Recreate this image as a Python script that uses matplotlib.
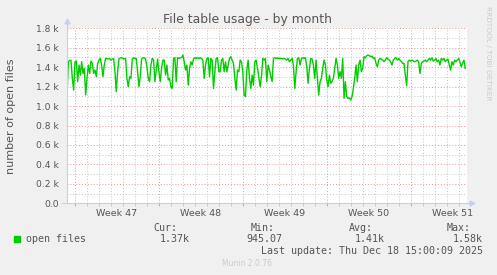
import numpy as np
import pandas as pd
import matplotlib
matplotlib.use('Agg')
import matplotlib.pyplot as plt
import matplotlib.dates as mdates
from matplotlib.transforms import blended_transform_factory

# visible window of the munin "month" graph
view_start = pd.Timestamp('2025-11-15 09:00')
view_end = pd.Timestamp('2025-12-18 17:00')
data_start = pd.Timestamp('2025-11-15 09:00')
data_end = pd.Timestamp('2025-12-18 13:30')

week_starts = ['2025-11-16', '2025-11-23', '2025-11-30', '2025-12-07', '2025-12-14']
week_labels = ['Week 47', 'Week 48', 'Week 49', 'Week 50', 'Week 51']

# number of open files (left to right)
open_files_a = [1114, 1456, 1470, 1470, 1285, 1165, 1456, 1463, 1251, 1422, 1319, 1456, 1336,
                1388, 1114, 1285, 1422, 1336, 1463, 1439, 1336, 1371, 1302, 1439, 1473, 1490,
                1422, 1302, 1422, 1490, 1490, 1484, 1490, 1473, 1484, 1490, 1353, 1148, 1353,
                1484, 1497, 1497, 1490, 1484, 1490, 1285, 1199, 1302, 1285, 1484, 1497, 1490,
                1490, 1353, 1199, 1302, 1484, 1497, 1497, 1484, 1405, 1285, 1251, 1422, 1490,
                1473, 1251, 1371, 1484, 1353, 1251, 1388, 1473, 1473, 1319, 1422, 1268]
open_files_b = [1285, 1199, 1182, 1490, 1497, 1251, 1497, 1490, 1497, 1497, 1525, 1456, 1371,
                1422, 1216, 1388, 1456, 1422, 1484, 1497, 1490, 1497, 1490, 1497, 1490, 1473,
                1285, 1422, 1490, 1497, 1302, 1490, 1473, 1182, 1353, 1490, 1497, 1353, 1353,
                1473, 1490, 1353, 1456, 1353, 1422, 1490, 1508, 1473, 1439, 1285, 1165, 1371,
                1353, 1473, 1456, 1353, 1114, 1097, 1371, 1473, 1285, 1182, 1319, 1216, 1456,
                1473, 1388, 1302, 1199, 1302, 1490, 1473, 1490, 1251, 1422]
open_files_c = [1371, 1302, 1251, 1490, 1497, 1490, 1497, 1490, 1490, 1490, 1484, 1490, 1484,
                1473, 1490, 1456, 1473, 1490, 1422, 1182, 1353, 1490, 1497, 1422, 1490, 1497,
                1490, 1497, 1405, 1234, 1388, 1490, 1484, 1422, 1285, 1473, 1285, 1114, 1251,
                1285, 1388, 1473, 1422, 1268, 1199, 1319, 1234, 1251, 1285, 1388, 1490, 1422,
                1285, 1353, 1285, 1490, 1079, 1251, 1097, 1079, 1086, 1062, 1097, 1182, 1285,
                1422, 1251, 1422, 1473, 1353, 1388, 1508, 1497, 1518, 1525]
open_files_d = [1518, 1508, 1514, 1490, 1497, 1439, 1405, 1473, 1490, 1484, 1473, 1456, 1473,
                1497, 1484, 1473, 1456, 1422, 1473, 1490, 1497, 1473, 1490, 1473, 1456, 1439,
                1439, 1319, 1210, 1456, 1473, 1463, 1473, 1463, 1456, 1463, 1473, 1456, 1336,
                1439, 1456, 1463, 1473, 1456, 1473, 1490, 1473, 1497, 1463, 1473, 1490, 1456,
                1473, 1422, 1490, 1473, 1490, 1456, 1473, 1484, 1422, 1371, 1456, 1422, 1473,
                1456, 1473, 1490, 1456, 1405, 1439, 1473, 1388]
open_files = open_files_a + open_files_b + open_files_c + open_files_d

y_ticks = [0, 200, 400, 600, 800, 1000, 1200, 1400, 1600, 1800]
y_labels = ['0.0', '0.2 k', '0.4 k', '0.6 k', '0.8 k', '1.0 k', '1.2 k', '1.4 k', '1.6 k', '1.8 k']
y_minor = [100, 300, 500, 700, 900, 1100, 1300, 1500, 1700]

stat_names = ['Cur:', 'Min:', 'Avg:', 'Max:']
stat_values = ['1.37k', '945.07', '1.41k', '1.58k']
last_update = 'Last update: Thu Dec 18 15:00:09 2025'

W, H = 497, 275
BG = '#F0F0F0'
TXT = '#555555'
AXIS = '#C8CDF5'
MINOR = '#C4C4C4'
MAJOR = '#E89494'

fig = plt.figure(figsize=(W / 100, H / 100), dpi=100, facecolor=BG)
ax = fig.add_axes([67 / W, 71.7 / H, 400 / W, 175 / H])
ax.set_facecolor('white')

t = pd.date_range(data_start, data_end, periods=len(open_files))
x = mdates.date2num(t.to_pydatetime())
wk = mdates.date2num(pd.to_datetime(week_starts).to_pydatetime())
days = mdates.date2num(pd.date_range('2025-11-16', '2025-12-18', freq='D').to_pydatetime())

ax.set_xlim(mdates.date2num(view_start.to_pydatetime()), mdates.date2num(view_end.to_pydatetime()))
ax.set_ylim(0, 1800)

# grid: gray dotted per day / 100, red dotted per week / 200
dot = (0, (1, 2))
for d in days:
    if d not in wk:
        ax.axvline(d, color=MINOR, lw=0.7, ls=dot, zorder=1)
for v in y_minor:
    ax.axhline(v, color=MINOR, lw=0.7, ls=dot, zorder=1)
for d in wk:
    ax.axvline(d, color=MAJOR, lw=0.7, ls=dot, zorder=1)
for v in y_ticks[1:]:
    ax.axhline(v, color=MAJOR, lw=0.7, ls=dot, zorder=1)

ax.plot(x, open_files, color='#00CC00', lw=1.0, zorder=3)

ax.set_yticks(y_ticks)
ax.set_yticklabels(y_labels)
ax.set_xticks(wk + 3.5)
ax.set_xticklabels(week_labels)
ax.tick_params(axis='both', length=0, labelsize=6.8, colors=TXT, pad=4)
ax.tick_params(axis='y', labelsize=6.6, pad=6)
ax.set_xticks(days, minor=True)
ax.tick_params(axis='x', which='minor', length=2, color=MINOR, width=0.6)
for s in ax.spines.values():
    s.set_visible(False)

# axes with arrows
ax.plot([0, 0], [0, 1.035], transform=ax.transAxes, color=AXIS, lw=0.8, clip_on=False, zorder=4)
ax.plot([-0.012, 1.01], [0, 0], transform=ax.transAxes, color=AXIS, lw=0.8, clip_on=False, zorder=4)
ax.plot([0], [1.04], transform=ax.transAxes, marker='^', ms=3.5, color=AXIS, clip_on=False, zorder=4)
ax.plot([1.013], [0], transform=ax.transAxes, marker='>', ms=3.5, color=AXIS, clip_on=False, zorder=4)
tr = blended_transform_factory(ax.transData, ax.transAxes)
for d in wk:
    ax.plot([d, d], [0, -0.012], transform=tr, color=MAJOR, lw=0.7, clip_on=False)

fig.text(247.5 / W, 1 - 19 / H, 'File table usage - by month', ha='center', va='center',
         fontsize=8.9, color=TXT)
fig.text(11 / W, 1 - 115.8 / H, 'number of open files', rotation=90, ha='center', va='center',
         fontsize=8, color=TXT)
fig.text(488 / W, 1 - 53 / H, 'RRDTOOL / TOBI OETIKER', rotation=270, ha='center', va='center',
         fontsize=5.3, color='#CCCCCC')

# legend block
mono = 'DejaVu Sans Mono'
fig.patches.append(plt.Rectangle((14 / W, 1 - 242 / H), 6 / W, 6 / H, transform=fig.transFigure,
                                 color='#00CC00', figure=fig))
fig.text(26 / W, 1 - 239.5 / H, 'open files', ha='left', va='center', fontsize=7.2,
         family=mono, color=TXT)
name_right = [177, 275, 373, 471]
value_right = [190, 282, 385, 483]
for name, val, nr, vr in zip(stat_names, stat_values, name_right, value_right):
    fig.text(nr / W, 1 - 228 / H, name, ha='right', va='center', fontsize=7.2, family=mono, color=TXT)
    fig.text(vr / W, 1 - 239.5 / H, val, ha='right', va='center', fontsize=7.2, family=mono, color=TXT)
fig.text(483 / W, 1 - 251 / H, last_update, ha='right', va='center', fontsize=7.2,
         family=mono, color=TXT)
fig.text(247 / W, 1 - 264 / H, 'Munin 2.0.76', ha='center', va='center', fontsize=5.5,
         color='#CCCCCC')

fig.savefig('out.png', dpi=100, facecolor=BG)
